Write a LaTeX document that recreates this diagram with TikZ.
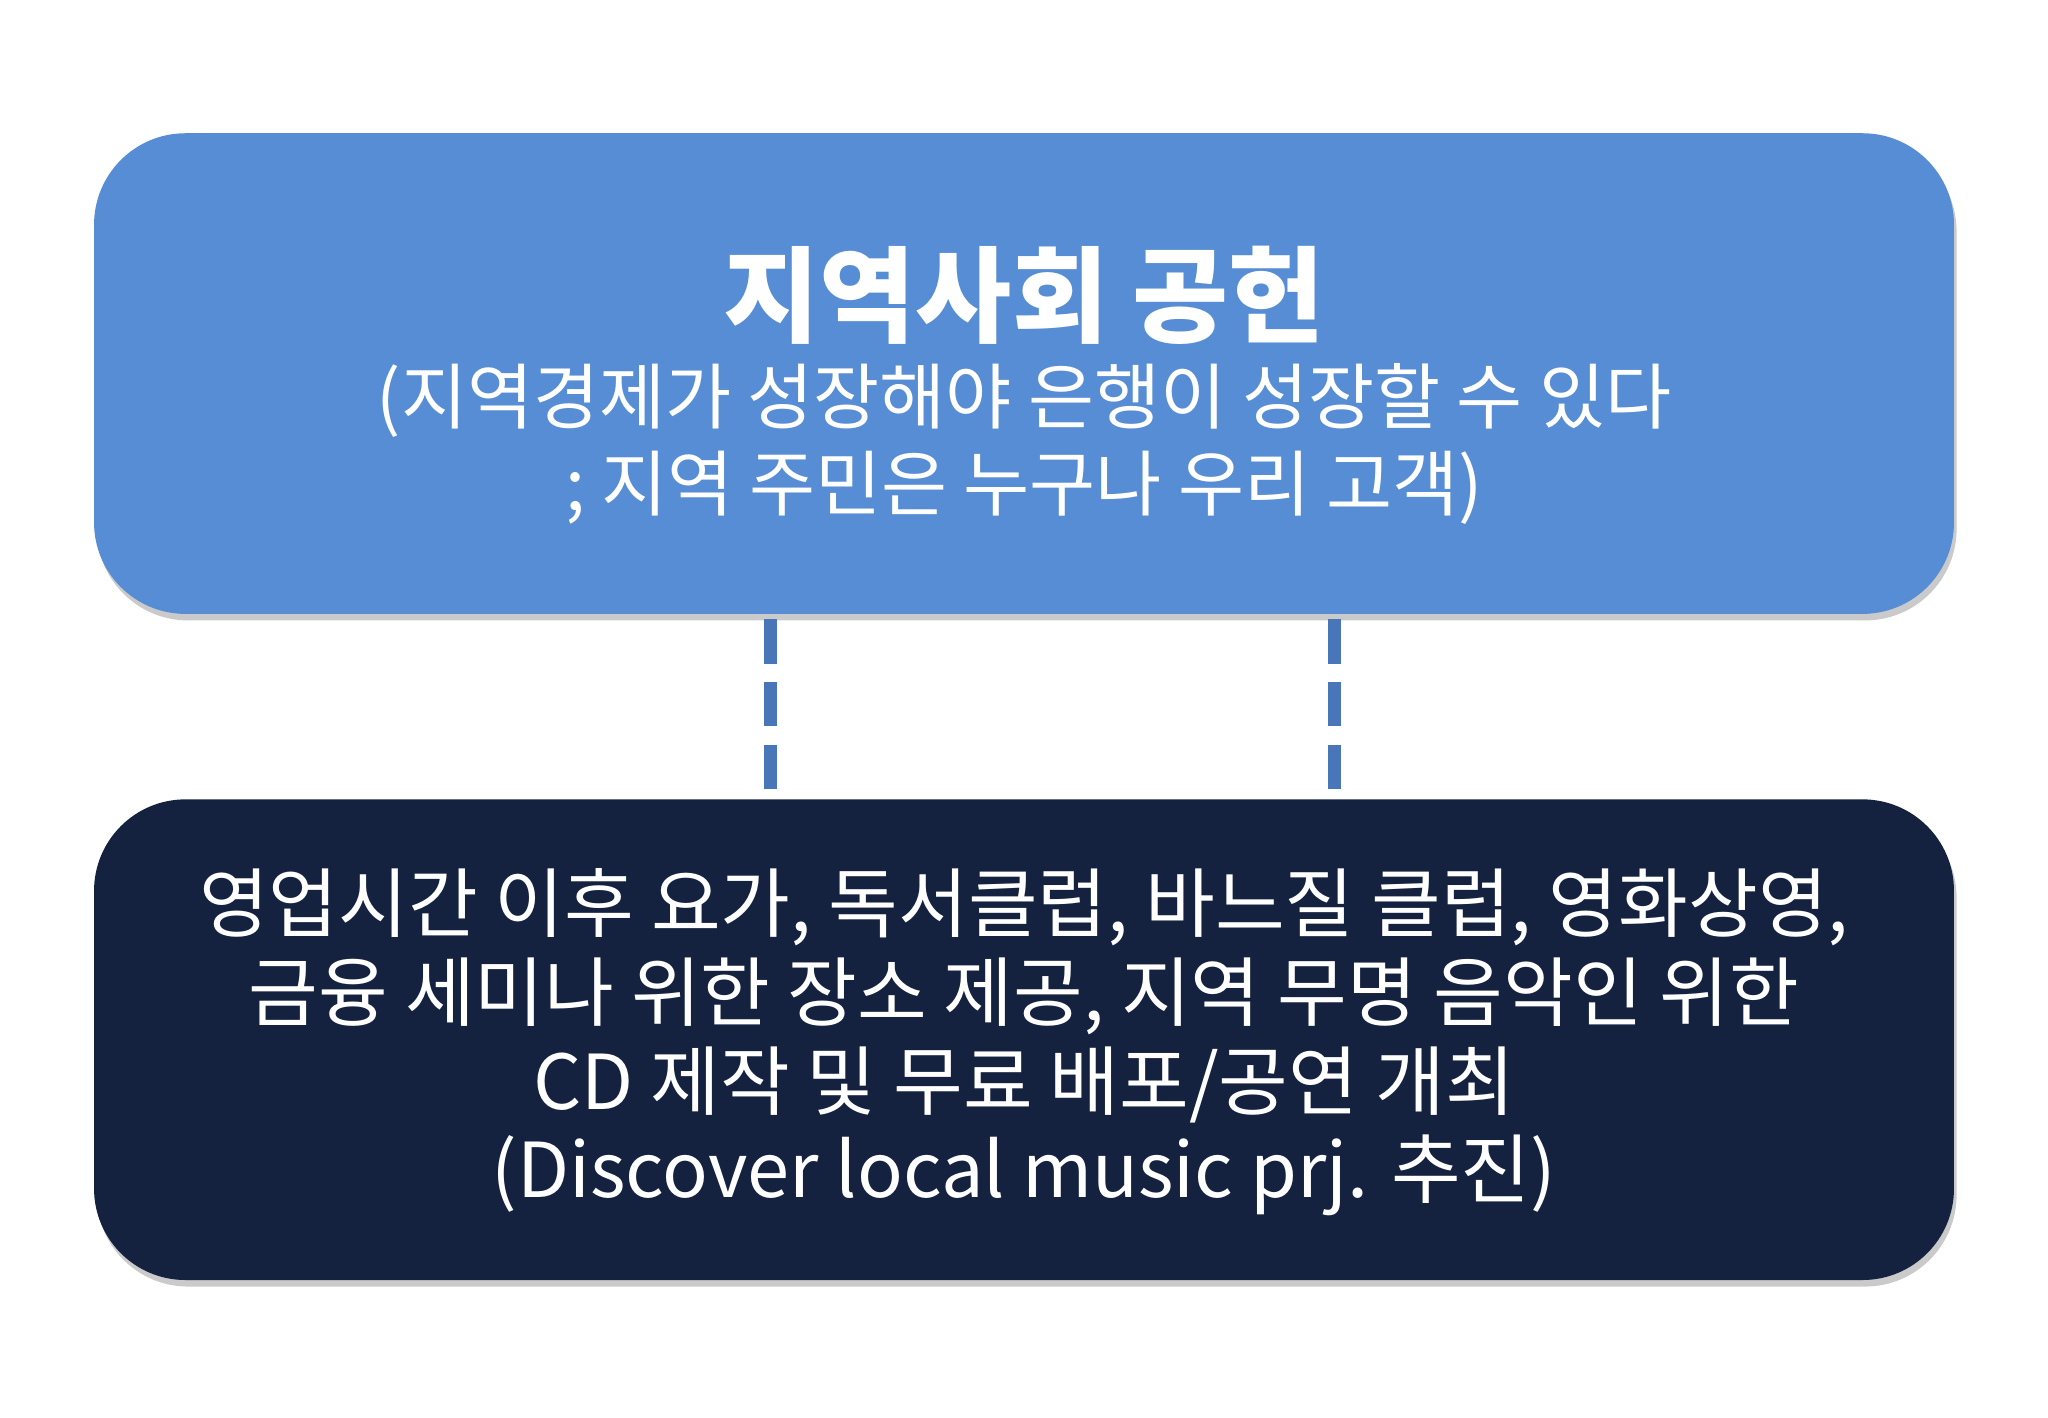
\documentclass[tikz,border=0pt]{standalone}
\usepackage{fontspec}
\setmainfont{Noto Sans CJK KR}
\usetikzlibrary{shadows}
\definecolor{topc}{RGB}{86,141,212}
\definecolor{botc}{RGB}{20,34,64}
\definecolor{dashc}{RGB}{72,118,185}
\begin{document}
\begin{tikzpicture}[x=1pt,y=-1pt,
  box/.style={rounded corners=70pt,minimum width=1424pt,minimum height=368pt,inner sep=0pt,
    drop shadow={shadow xshift=2pt,shadow yshift=-5pt,fill=black!35,opacity=0.6}},
  link/.style={draw=dashc,line width=10pt,dash pattern=on 34pt off 14pt}]
\useasboundingbox (0,0) rectangle (1568,1085);
\node[box,fill=topc] (top) at (784,286) {};
\node[box,fill=botc] (bot) at (784,796) {};
\node[text=white,font=\bfseries\fontsize{80}{90}\selectfont] (t1) at (784,226) {지역사회 공헌};
\node[text=white,align=center,font=\fontsize{55}{66}\selectfont] (t2) at (784,340)
 {(지역경제가 성장해야 은행이 성장할 수 있다\\; 지역 주민은 누구나 우리 고객)};
\node[text=white,align=center,font=\fontsize{58}{68}\selectfont] (b1) at (784,798)
 {영업시간 이후 요가, 독서클럽, 바느질 클럽, 영화상영,\\금융 세미나 위한 장소 제공, 지역 무명 음악인 위한\\CD 제작 및 무료 배포/공연 개최\\(Discover local music prj. 추진)};
\coordinate (a1) at (590,474); \coordinate (a2) at (590,608);
\coordinate (c1) at (1022,474); \coordinate (c2) at (1022,608);
\draw[link] (a1) -- (a2);
\draw[link] (c1) -- (c2);
\end{tikzpicture}
\end{document}
